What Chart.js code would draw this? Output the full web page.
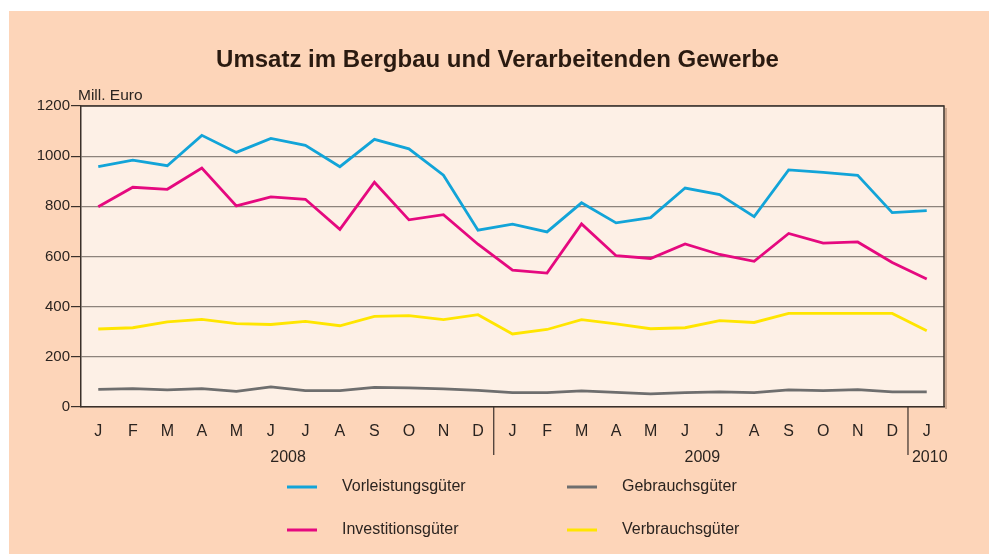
<!DOCTYPE html>
<html>
<head>
<meta charset="utf-8">
<script src="https://cdn.jsdelivr.net/npm/chart.js@4/dist/chart.umd.min.js"></script>
<style>
  html, body { margin: 0; padding: 0; background: #fff; }
  #wrap { width: 989px; height: 554px; position: relative; }
</style>
</head>
<body>
<div id="wrap"><canvas id="chart" width="989" height="554"></canvas></div>
<script>
'use strict';

// Monate Jan 2008 - Jan 2010
const months = ['J', 'F', 'M', 'A', 'M', 'J', 'J', 'A', 'S', 'O', 'N', 'D',
  'J', 'F', 'M', 'A', 'M', 'J', 'J', 'A', 'S', 'O', 'N', 'D', 'J'];
const years = ['2008', '2009', '2010'];
const yearStart = [0, 12, 24];

// Werte in Mill. Euro
const vorleistung = [958, 984, 962, 1083, 1015, 1071, 1043, 958, 1067, 1029, 924, 705,
  729, 698, 814, 734, 755, 873, 847, 759, 945, 935, 924, 775, 783];
const investition = [798, 876, 868, 953, 802, 838, 828, 708, 896, 746, 767, 649,
  546, 534, 730, 603, 592, 650, 608, 581, 692, 653, 658, 576, 510];
const gebrauch = [70, 73, 68, 73, 62, 80, 65, 65, 78, 76, 72, 66,
  57, 57, 64, 58, 52, 57, 60, 57, 68, 65, 69, 60, 60];
const verbrauch = [311, 316, 339, 349, 332, 329, 341, 324, 361, 364, 348, 368,
  291, 309, 348, 331, 312, 316, 344, 337, 373, 373, 373, 373, 304];

const yTicks = [0, 200, 400, 600, 800, 1000, 1200];

const textColor = '#2b2420';
const fontFamily = '"Liberation Sans", Arial, sans-serif';

// Hintergrund + Rahmen + Zusatztexte
const decoPlugin = {
  id: 'deco',
  beforeDraw(chart) {
    const { ctx, chartArea: a } = chart;
    ctx.save();
    ctx.fillStyle = '#ffffff';
    ctx.fillRect(0, 0, chart.width, chart.height);
    ctx.fillStyle = '#fdd5b9';
    ctx.fillRect(9, 11, chart.width - 9, chart.height - 11);
    ctx.fillStyle = '#fdf0e6';
    ctx.fillRect(a.left, a.top, a.right - a.left, a.bottom - a.top);
    ctx.restore();
  },
  afterDraw(chart) {
    const { ctx, chartArea: a } = chart;
    const x = chart.scales.x;
    ctx.save();
    // Rahmen oben/rechts
    ctx.strokeStyle = '#3a302a';
    ctx.lineWidth = 1.5;
    ctx.beginPath();
    ctx.moveTo(a.left, a.top);
    ctx.lineTo(a.right, a.top);
    ctx.lineTo(a.right, a.bottom);
    ctx.stroke();
    ctx.strokeStyle = 'rgba(120,90,70,0.35)';
    ctx.lineWidth = 2;
    ctx.beginPath();
    ctx.moveTo(a.right + 2, a.top + 2);
    ctx.lineTo(a.right + 2, a.bottom + 2);
    ctx.stroke();

    // Einheit
    ctx.fillStyle = textColor;
    ctx.font = '15.5px ' + fontFamily;
    ctx.textAlign = 'left';
    ctx.textBaseline = 'middle';
    ctx.fillText('Mill. Euro', a.left - 3, a.top - 10);

    // Jahre + Trennlinien
    ctx.strokeStyle = '#3a302a';
    ctx.lineWidth = 1.2;
    ctx.font = '16px ' + fontFamily;
    ctx.textAlign = 'center';
    for (let i = 0; i < years.length; i++) {
      const s = yearStart[i];
      const e = i + 1 < years.length ? yearStart[i + 1] - 1 : months.length - 1;
      let cx = (x.getPixelForValue(s) + x.getPixelForValue(e)) / 2;
      if (i === years.length - 1) cx += 3;
      ctx.fillText(years[i], cx, a.bottom + 51);
      if (s > 0) {
        const sx = (x.getPixelForValue(s - 1) + x.getPixelForValue(s)) / 2 - 1.5;
        ctx.beginPath();
        ctx.moveTo(sx, a.bottom);
        ctx.lineTo(sx, a.bottom + 48);
        ctx.stroke();
      }
    }

    // Legende 2x2
    const order = [0, 2, 1, 3];
    const cols = [287, 567];
    const rows = [487, 530];
    ctx.textAlign = 'left';
    ctx.font = '16px ' + fontFamily;
    order.forEach((di, k) => {
      const ds = chart.data.datasets[di];
      const lx = cols[k % 2];
      const ly = rows[Math.floor(k / 2)];
      ctx.strokeStyle = ds.borderColor;
      ctx.lineWidth = 3;
      ctx.beginPath();
      ctx.moveTo(lx, ly);
      ctx.lineTo(lx + 30, ly);
      ctx.stroke();
      ctx.fillStyle = textColor;
      ctx.fillText(ds.label, lx + 55, ly);
    });
    ctx.restore();
  },
};

const lineDefaults = {
  borderWidth: 2.8,
  pointRadius: 0,
  tension: 0,
  fill: false,
};

new Chart(document.getElementById('chart'), {
  type: 'line',
  data: {
    labels: months,
    datasets: [
      { label: 'Vorleistungsgüter', data: vorleistung, borderColor: '#12a4d8', ...lineDefaults },
      { label: 'Investitionsgüter', data: investition, borderColor: '#e5097f', ...lineDefaults },
      { label: 'Gebrauchsgüter', data: gebrauch, borderColor: '#6e6e6e', ...lineDefaults },
      { label: 'Verbrauchsgüter', data: verbrauch, borderColor: '#ffe500', ...lineDefaults },
    ],
  },
  options: {
    responsive: false,
    animation: false,
    layout: { padding: { left: 6, right: 0, top: 0, bottom: 0 } },
    plugins: {
      legend: { display: false },
      tooltip: { enabled: false },
      title: {
        display: true,
        text: 'Umsatz im Bergbau und Verarbeitenden Gewerbe',
        color: '#2a1a10',
        font: { family: fontFamily, size: 24, weight: 'bold', lineHeight: 1.2 },
        padding: { top: 46, bottom: 31.2 },
      },
    },
    scales: {
      x: {
        offset: true,
        grid: { display: false },
        border: { display: true, color: '#3a302a', width: 1.5 },
        ticks: {
          color: textColor,
          font: { family: fontFamily, size: 16 },
          padding: 7,
          maxRotation: 0,
          autoSkip: false,
        },
        afterFit(s) { s.height = 147; },
      },
      y: {
        min: 0,
        max: 1200,
        afterBuildTicks(s) { s.ticks = yTicks.map(v => ({ value: v })); },
        grid: {
          color: '#8d837c',
          lineWidth: 1.2,
          tickColor: '#3a302a',
          tickLength: 10,
        },
        border: { display: true, color: '#3a302a', width: 1.5 },
        ticks: {
          color: textColor,
          font: { family: fontFamily, size: 15 },
          padding: 1,
          callback: v => String(v),
        },
        afterFit(s) { s.width = 75; },
      },
      // leere Achse rechts als Rand
      yRight: {
        position: 'right',
        min: 0,
        max: 1200,
        grid: { display: false, drawOnChartArea: false },
        border: { display: false },
        ticks: { display: false },
        afterFit(s) { s.width = 45; },
      },
    },
  },
  plugins: [decoPlugin],
});
</script>
</body>
</html>
